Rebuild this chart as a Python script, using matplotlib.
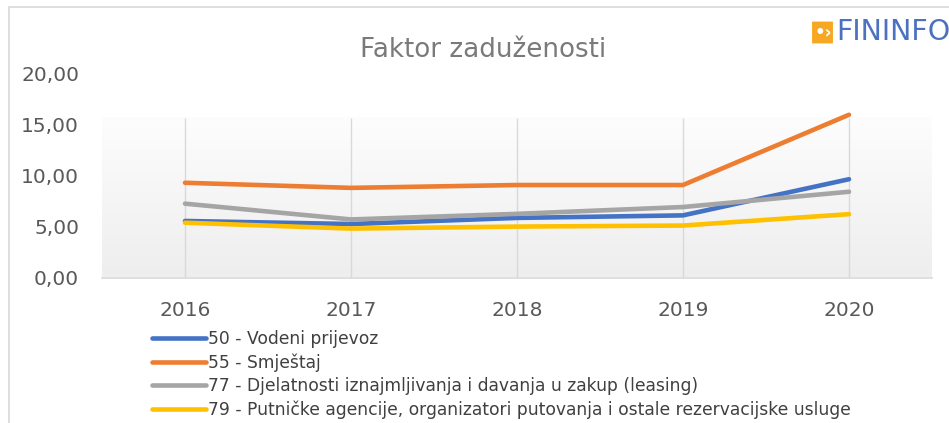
import numpy as np
from matplotlib import pyplot as plt
from matplotlib.colors import LinearSegmentedColormap
from matplotlib.patches import Rectangle, FancyBboxPatch
from matplotlib.ticker import FuncFormatter

years = ['2016', '2017', '2018', '2019', '2020']
vodeni_prijevoz = [5.55, 5.25, 5.85, 6.1, 9.65]
smjestaj = [9.3, 8.8, 9.08, 9.08, 15.98]
leasing = [7.25, 5.7, 6.25, 6.92, 8.42]
putnicke_agencije = [5.38, 4.8, 5.0, 5.1, 6.22]

labels = ['50 - Vodeni prijevoz',
          '55 - Smještaj',
          '77 - Djelatnosti iznajmljivanja i davanja u zakup (leasing)',
          '79 - Putničke agencije, organizatori putovanja i ostale rezervacijske usluge']
colors = ['#4472C4', '#ED7D31', '#A5A5A5', '#FFC000']

plt.rcParams['font.family'] = ['DejaVu Sans']

W, H = 949, 423
fig = plt.figure(figsize=(W / 100, H / 100), dpi=100)

# chart frame
fig.patches.append(Rectangle((9 / W, -0.1), 1.2, (H - 7) / H + 0.1, transform=fig.transFigure,
                             fill=False, edgecolor='#d9d9d9', linewidth=1.2))

ax = fig.add_axes([102 / W, (H - 277.5) / H, 830 / W, (277.5 - 73.8) / H])
ax.set_facecolor('none')
x = np.arange(len(years))
ax.set_xlim(-0.5, 4.5)
ax.set_ylim(0, 20)

# gradient plot area fill
grad_top = 15.7
grad = np.linspace(0, 1, 256).reshape(-1, 1)
ax.imshow(grad, extent=(-0.5, 4.5, 0, grad_top), aspect='auto', origin='lower',
          cmap=LinearSegmentedColormap.from_list('g', ['#eeeeee', '#fdfdfd']),
          zorder=0)

ax.vlines(x, 0, grad_top, color='#d9d9d9', linewidth=1, zorder=1)

series = [vodeni_prijevoz, smjestaj, leasing, putnicke_agencije]
handles = []
for vals, lab, col in zip(series, labels, colors):
    ln, = ax.plot(x, vals, color=col, linewidth=3.3, label=lab, zorder=3,
                  solid_capstyle='round')
    handles.append(ln)

for s in ['top', 'right', 'left']:
    ax.spines[s].set_visible(False)
ax.spines['bottom'].set_color('#d9d9d9')
ax.spines['bottom'].set_linewidth(1.2)

ax.set_xticks(x)
ax.set_xticklabels(years)
ax.set_yticks([0, 5, 10, 15, 20])
ax.yaxis.set_major_formatter(FuncFormatter(lambda v, p: f'{v:.2f}'.replace('.', ',')))
ax.tick_params(axis='both', length=0, labelsize=14.5, labelcolor='#595959')
ax.tick_params(axis='y', pad=16.5)
ax.tick_params(axis='x', pad=17)

fig.text(483 / W, 1 - 50 / H, 'Faktor zaduženosti', ha='center', va='center',
         fontsize=18.8, color='#7a7a7a')

# logo
fig.patches.append(FancyBboxPatch((813 / W, 1 - 43 / H), 19 / W, 21 / H, transform=fig.transFigure,
                                  boxstyle='round,pad=0.001', facecolor='#F7A823', edgecolor='none'))
fig.text(823 / W, 1 - 32 / H, '•›', ha='center', va='center', fontsize=12,
         color='white', fontweight='bold')
fig.text(836 / W, 1 - 32 / H, 'FININFO', ha='left', va='center', fontsize=20.5,
         color='#4A72C0')

fig.legend(handles=handles, loc='upper left', bbox_to_anchor=(152 / W, 1 - 330 / H),
           frameon=False, fontsize=12.3, labelcolor='#404040', handlelength=3.15,
           handletextpad=0.15, labelspacing=0.31, borderaxespad=0, borderpad=0)

fig.savefig('out.png', dpi=100)
